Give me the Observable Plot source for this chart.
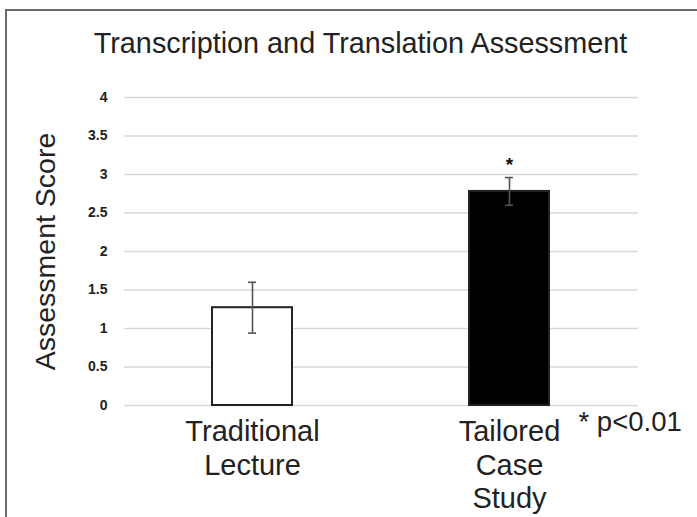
<!DOCTYPE html>
<html>
<head>
<meta charset="utf-8">
<script src="https://cdn.jsdelivr.net/npm/d3@7"></script>
<script src="https://cdn.jsdelivr.net/npm/@observablehq/plot@0.6"></script>
<style>
  html, body { margin: 0; padding: 0; background: #fff; }
  #wrap { position: relative; width: 697px; height: 517px; overflow: hidden; }
  #frame { position: absolute; left: 5px; top: 9px; width: 720px; height: 540px; border: 2px solid #6b6b6b; box-sizing: border-box; }
  #chart { position: absolute; left: 0; top: 0; }
</style>
</head>
<body>
<div id="wrap"><div id="frame"></div><div id="chart"></div></div>
<script>
const title = "Transcription and Translation Assessment";
const yLabel = "Assessment Score";
const groups = ["Traditional\nLecture", "Tailored\nCase\nStudy"];
const means = [1.27, 2.78];
const errors = [0.33, 0.18];
const fills = ["#ffffff", "#000000"];
const significant = [false, true];
const yTicks = [0, 0.5, 1, 1.5, 2, 2.5, 3, 3.5, 4];
const note = "* p<0.01";

const data = groups.map((g, i) => ({
  group: g, mean: means[i], lo: means[i] - errors[i], hi: means[i] + errors[i],
  fill: fills[i], sig: significant[i]
}));

const font = "Liberation Sans, Arial, sans-serif";

const plot = Plot.plot({
  width: 697,
  height: 517,
  marginTop: 97,
  marginBottom: 112,
  marginLeft: 124,
  marginRight: 59,
  style: { fontFamily: font, background: "transparent", overflow: "visible" },
  x: { domain: groups, paddingInner: 0.68, paddingOuter: 0.34, axis: null },
  y: { domain: [0, 4], ticks: yTicks, axis: null },
  marks: [
    Plot.ruleY(yTicks, { stroke: "#d9d9d9", strokeWidth: 1.3 }),
    Plot.text(yTicks, {
      frameAnchor: "left", y: d => d, text: d => String(d), textAnchor: "end",
      dx: -17, fontSize: 14, fontWeight: "bold", fill: "#222"
    }),
    Plot.barY(data, { x: "group", y: "mean", fill: "fill", stroke: "#222", strokeWidth: 2, insetLeft: 1, insetRight: 1 }),
    Plot.ruleX(data, { x: "group", y1: "lo", y2: "hi", stroke: "#555", strokeWidth: 1.6 }),
    Plot.tickY(data, { x: "group", y: "lo", stroke: "#555", strokeWidth: 1.6, insetLeft: 37, insetRight: 37 }),
    Plot.tickY(data, { x: "group", y: "hi", stroke: "#555", strokeWidth: 1.6, insetLeft: 37, insetRight: 37 }),
    Plot.text(data.filter(d => d.sig), { x: "group", y: "hi", text: () => "*", dy: -13, fontSize: 19, fontWeight: "bold", fill: "#111" }),
    Plot.text(data, {
      x: "group", frameAnchor: "bottom", text: "group", lineAnchor: "top",
      lineHeight: 1.17, dy: 11, fontSize: 29, fill: "#222"
    }),
    Plot.text([note], {
      frameAnchor: "bottom-right", text: d => d, textAnchor: "start", lineAnchor: "middle",
      dx: -60, dy: 17, fontSize: 27.5, fill: "#222"
    }),
    Plot.text([yLabel], {
      frameAnchor: "left", text: d => d, rotate: -90, textAnchor: "middle", lineAnchor: "middle",
      dx: -79, fontSize: 28.5, fill: "#222"
    }),
    Plot.text([title], {
      frameAnchor: "top", text: d => d, lineAnchor: "middle", dy: -54, dx: -21, fontSize: 28.8, fill: "#222"
    })
  ]
});
document.getElementById("chart").appendChild(plot);
</script>
</body>
</html>
